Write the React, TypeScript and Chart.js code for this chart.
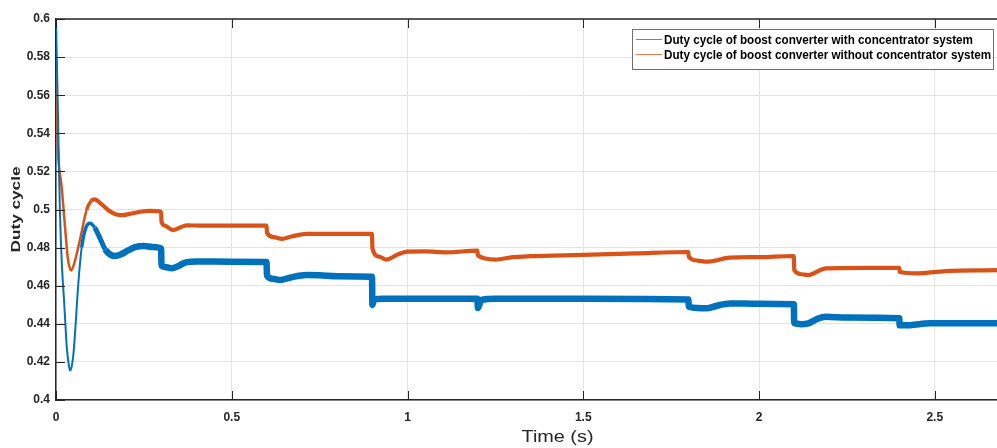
import React, { useEffect, useRef } from 'react';
import { Chart, registerables } from 'chart.js';

Chart.register(...registerables);

// ---- Data ----
const blueT = [
  0, 0.005, 0.011, 0.017, 0.023, 0.031, 0.036, 0.04, 0.044, 0.05, 0.057, 0.063, 0.073, 0.085, 0.097,
  0.11, 0.125, 0.14, 0.155, 0.168, 0.185, 0.205, 0.225, 0.25, 0.275, 0.299,
  0.3001, 0.31, 0.33, 0.35, 0.372, 0.4, 0.5, 0.599,
  0.6001, 0.615, 0.638, 0.665, 0.713, 0.75, 0.8, 0.899,
  0.9001, 0.905, 0.93, 1.0, 1.1, 1.199,
  1.2001, 1.21, 1.25, 1.5, 1.799,
  1.8001, 1.825, 1.851, 1.88, 1.917, 2.0, 2.099,
  2.1001, 2.12, 2.14, 2.165, 2.19, 2.25, 2.399,
  2.4001, 2.43, 2.486, 2.6, 2.677,
];
const blueV = [
  0.6, 0.555, 0.5, 0.47, 0.452, 0.427, 0.419, 0.4155, 0.417, 0.425, 0.443, 0.46, 0.48, 0.4905, 0.4928,
  0.4905, 0.485, 0.479, 0.4763, 0.4756, 0.4765, 0.4785, 0.4802, 0.4808, 0.4803, 0.4796,
  0.4705, 0.4698, 0.4691, 0.4705, 0.4724, 0.4727, 0.4726, 0.4725,
  0.4655, 0.4637, 0.463, 0.4642, 0.4656, 0.4655, 0.465, 0.4647,
  0.4499, 0.4528, 0.4532, 0.4531, 0.4531, 0.4531,
  0.4483, 0.4525, 0.4532, 0.4532, 0.4528,
  0.449, 0.4483, 0.4481, 0.4495, 0.4507, 0.4505, 0.4502,
  0.4404, 0.4398, 0.4402, 0.4425, 0.4437, 0.4433, 0.4429,
  0.4392, 0.4393, 0.4403, 0.4403, 0.4403,
];
const orangeT = [
  0, 0.002, 0.004, 0.0065, 0.016, 0.0256, 0.034, 0.043, 0.05, 0.068, 0.087, 0.1, 0.111,
  0.125, 0.15, 0.17, 0.187, 0.21, 0.24, 0.267, 0.299,
  0.3001, 0.31, 0.333, 0.35, 0.372, 0.42, 0.599,
  0.6001, 0.62, 0.643, 0.67, 0.713, 0.8, 0.899,
  0.9001, 0.92, 0.94, 0.97, 1.0, 1.05, 1.11, 1.199,
  1.2001, 1.25, 1.3, 1.35, 1.5, 1.65, 1.799,
  1.8001, 1.825, 1.851, 1.917, 2.0, 2.099,
  2.1001, 2.12, 2.14, 2.19, 2.3, 2.399,
  2.4001, 2.45, 2.53, 2.677,
];
const orangeV = [
  0.58, 0.56, 0.54, 0.5277, 0.512, 0.491, 0.474, 0.468, 0.4705, 0.484, 0.4997, 0.5045, 0.5053,
  0.5035, 0.4995, 0.4975, 0.497, 0.4977, 0.4988, 0.4993, 0.4988,
  0.4936, 0.4915, 0.4892, 0.4903, 0.4917, 0.4915, 0.4915,
  0.4878, 0.4855, 0.4846, 0.4858, 0.4872, 0.4872, 0.4872,
  0.4796, 0.4752, 0.4737, 0.4762, 0.4779, 0.478, 0.4775, 0.4784,
  0.4758, 0.4737, 0.475, 0.4755, 0.4762, 0.477, 0.4777,
  0.4752, 0.4732, 0.4726, 0.4747, 0.475, 0.4756,
  0.4682, 0.466, 0.4656, 0.4691, 0.4694, 0.4694,
  0.4672, 0.4665, 0.4677, 0.4682,
];
const xTicks = [0, 0.5, 1, 1.5, 2, 2.5];
const yTicks = [0.4, 0.42, 0.44, 0.46, 0.48, 0.5, 0.52, 0.54, 0.56, 0.58, 0.6];
const seriesLabels = [
  'Duty cycle of boost converter with concentrator system',
  'Duty cycle of boost converter without concentrator system',
];
const xTitle = 'Time (s)';
const yTitle = 'Duty cycle';
const xMin = 0;
const xMax = 2.677;
const yMin = 0.4;
const yMax = 0.6;

const BLUE = '#0072BD';
const ORANGE = '#D95319';
const AXIS = '#262626';

function fitText(ctx: CanvasRenderingContext2D, text: string, x: number, y: number, width: number, align: CanvasTextAlign) {
  const w = ctx.measureText(text).width;
  ctx.save();
  ctx.translate(x, y);
  ctx.scale(width / w, 1);
  ctx.textAlign = align;
  ctx.fillText(text, 0, 0);
  ctx.restore();
}

const decorPlugin = {
  id: 'decor',
  afterDraw(chart: any) {
    const { ctx, chartArea: a, scales } = chart;
    ctx.save();
    // top border
    ctx.strokeStyle = AXIS;
    ctx.lineWidth = 1.5;
    ctx.beginPath();
    ctx.moveTo(a.left, a.top);
    ctx.lineTo(a.right, a.top);
    ctx.stroke();
    // inner ticks
    ctx.lineWidth = 1;
    ctx.beginPath();
    yTicks.forEach((v) => {
      const y = Math.round(scales.y.getPixelForValue(v)) + 0.5;
      ctx.moveTo(a.left, y);
      ctx.lineTo(a.left + 9, y);
    });
    xTicks.forEach((v) => {
      const x = Math.round(scales.x.getPixelForValue(v)) + 0.5;
      ctx.moveTo(x, a.bottom);
      ctx.lineTo(x, a.bottom - 9);
      ctx.moveTo(x, a.top);
      ctx.lineTo(x, a.top + 9);
    });
    ctx.stroke();

    // axis titles
    ctx.fillStyle = AXIS;
    ctx.textBaseline = 'middle';
    ctx.font = '17px Arial, "Liberation Sans", sans-serif';
    fitText(ctx, xTitle, 557.5, 437.5, 72, 'center');
    ctx.save();
    ctx.translate(17, (a.top + a.bottom) / 2);
    ctx.rotate(-Math.PI / 2);
    ctx.font = 'bold 12px Arial, "Liberation Sans", sans-serif';
    fitText(ctx, yTitle, 0, 0, 86, 'center');
    ctx.restore();

    // legend
    const bx = 632, by = 29, bw = 361, bh = 40;
    ctx.fillStyle = '#ffffff';
    ctx.fillRect(bx, by, bw, bh);
    ctx.strokeStyle = '#6e6e6e';
    ctx.lineWidth = 1;
    ctx.strokeRect(bx + 0.5, by + 0.5, bw, bh);
    const rows = [40, 55];
    const colors = [BLUE, ORANGE];
    ctx.font = 'bold 12px Arial, "Liberation Sans", sans-serif';
    const w0 = ctx.measureText(seriesLabels[0]).width;
    const sx = 309 / w0;
    seriesLabels.forEach((label, i) => {
      ctx.strokeStyle = colors[i];
      ctx.globalAlpha = 0.75;
      ctx.beginPath();
      ctx.moveTo(636, rows[i] - 0.5);
      ctx.lineTo(662, rows[i] - 0.5);
      ctx.stroke();
      ctx.globalAlpha = 1;
      ctx.fillStyle = '#000000';
      ctx.save();
      ctx.translate(664, rows[i] + 0.5);
      ctx.scale(sx, 1);
      ctx.textAlign = 'left';
      ctx.fillText(label, 0, 0);
      ctx.restore();
    });
    ctx.restore();
  },
};

function widthFor(kind: 'blue' | 'orange') {
  return (c: any) => {
    const x = c.p0.parsed.x;
    if (kind === 'blue') {
      if (x < 0.07) return 2;
      if (x < 0.1) return 3.5;
      if (x < 0.13) return 5;
      return 6.5;
    }
    if (x < 0.07) return 2.5;
    if (x < 0.1) return 3.5;
    return 4.2;
  };
}

export default function App() {
  const ref = useRef<HTMLCanvasElement | null>(null);
  useEffect(() => {
    if (!ref.current) return;
    const chart = new Chart(ref.current, {
      type: 'line',
      data: {
        datasets: [
          {
            label: seriesLabels[0],
            data: blueT.map((t, i) => ({ x: t, y: blueV[i] })),
            borderColor: BLUE,
            borderWidth: 6.5,
            pointRadius: 0,
            cubicInterpolationMode: 'monotone',
            segment: { borderWidth: widthFor('blue') },
          },
          {
            label: seriesLabels[1],
            data: orangeT.map((t, i) => ({ x: t, y: orangeV[i] })),
            borderColor: ORANGE,
            borderWidth: 4.2,
            pointRadius: 0,
            cubicInterpolationMode: 'monotone',
            segment: { borderWidth: widthFor('orange') },
          },
        ],
      },
      options: {
        animation: false,
        responsive: false,
        devicePixelRatio: 1,
        layout: { padding: { top: 19, right: 0, left: 0, bottom: 0 } },
        plugins: { legend: { display: false }, tooltip: { enabled: false } },
        scales: {
          x: {
            type: 'linear',
            min: xMin,
            max: xMax,
            afterFit: (s: any) => { s.height = 48; },
            afterBuildTicks: (s: any) => { s.ticks = xTicks.map((v) => ({ value: v })); },
            grid: { color: '#e3e3e3', lineWidth: 1, drawTicks: false },
            border: { display: true, color: AXIS, width: 1.5 },
            ticks: {
              padding: 10,
              color: AXIS,
              font: { family: 'Arial, "Liberation Sans", sans-serif', size: 12, weight: 'bold' },
              callback: (v: any) => String(Number(Number(v).toFixed(2))),
              maxRotation: 0,
              autoSkip: false,
            },
          },
          y: {
            type: 'linear',
            min: yMin,
            max: yMax,
            afterFit: (s: any) => { s.width = 56; },
            afterBuildTicks: (s: any) => { s.ticks = yTicks.map((v) => ({ value: v })); },
            grid: { color: '#e3e3e3', lineWidth: 1, drawTicks: false },
            border: { display: true, color: AXIS, width: 1.5 },
            ticks: {
              padding: 6,
              color: AXIS,
              font: { family: 'Arial, "Liberation Sans", sans-serif', size: 12, weight: 'bold' },
              callback: (v: any) => String(Number(Number(v).toFixed(2))),
              autoSkip: false,
            },
          },
        },
      },
      plugins: [decorPlugin],
    } as any);
    return () => chart.destroy();
  }, []);
  return (
    <div style={{ position: 'fixed', left: 0, top: 0, width: 997, height: 448, background: '#fff', overflow: 'hidden' }}>
      <canvas ref={ref} width={997} height={448} style={{ display: 'block' }} />
    </div>
  );
}
